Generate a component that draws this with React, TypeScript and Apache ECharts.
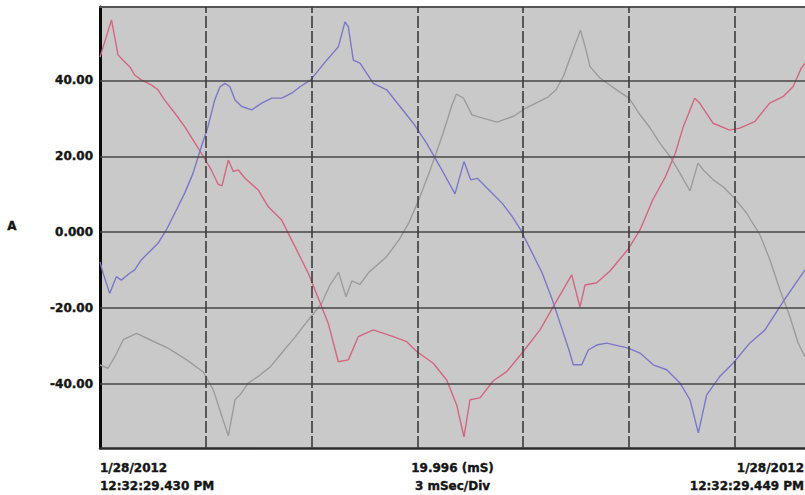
import React, { useEffect, useRef } from "react";
import * as echarts from "echarts";

// Capture window: 19.996 ms, 3 ms per division
const SPAN_MS = 19.996;
const Y_MIN = -56.8;
const Y_MAX = 59.3;
const yTicks = [-40, -20, 0, 20, 40];
const xDivisions = [3, 6, 9, 12, 15, 18];

const startLabel = ["1/28/2012", "12:32:29.430 PM"];
const centerLabel = ["19.996 (mS)", "3 mSec/Div"];
const endLabel = ["1/28/2012", "12:32:29.449 PM"];
const unitLabel = "A";

// Phase currents (A) against time (ms)
const redT = [0, 0.326, 0.511, 0.652, 0.842, 0.984, 1.171, 1.455, 1.645, 1.835, 2.119, 2.402, 2.638, 2.873, 3.157, 3.347, 3.46, 3.639, 3.781, 3.923, 4.113, 4.49, 4.773, 5.154, 5.341, 5.624, 5.908, 6.098, 6.288, 6.475, 6.759, 7.043, 7.326, 7.752, 8.319, 8.699, 8.983, 9.453, 9.833, 10.117, 10.324, 10.494, 10.778, 11.155, 11.535, 12.006, 12.48, 12.857, 13.379, 13.614, 13.756, 14.088, 14.465, 14.984, 15.316, 15.676, 16.035, 16.318, 16.544, 16.867, 17.009, 17.387, 17.86, 18.144, 18.569, 18.995, 19.372, 19.656, 19.891, 19.996];
const redA = [46.1, 55.9, 46.7, 45.3, 43.6, 41.4, 40.1, 38.8, 37.5, 34.8, 31.4, 27.8, 24.3, 20.8, 16.4, 12.7, 12.2, 19.0, 16.0, 16.4, 14.2, 11.1, 6.7, 3.2, -0.3, -5.5, -10.8, -15.2, -19.6, -24.0, -34.1, -33.6, -27.5, -25.7, -27.5, -28.8, -31.4, -34.5, -38.9, -45.5, -53.9, -44.1, -43.6, -39.1, -36.7, -31.4, -25.7, -19.6, -11.2, -19.7, -13.9, -13.3, -10.2, -4.4, 0.6, 8.5, 14.6, 20.8, 27.8, 35.3, 34.0, 28.7, 26.9, 27.4, 29.1, 34.0, 35.7, 38.3, 43.2, 44.5];

const blueT = [0, 0.085, 0.275, 0.462, 0.604, 0.842, 0.984, 1.171, 1.361, 1.645, 1.88, 2.119, 2.402, 2.638, 2.873, 3.063, 3.253, 3.404, 3.545, 3.687, 3.829, 4.019, 4.303, 4.586, 4.87, 5.154, 5.437, 5.673, 5.976, 6.43, 6.759, 6.949, 7.043, 7.184, 7.374, 7.752, 8.132, 8.509, 8.886, 9.266, 9.643, 10.069, 10.324, 10.514, 10.701, 11.033, 11.41, 11.694, 11.932, 12.261, 12.545, 12.829, 13.112, 13.302, 13.424, 13.662, 13.85, 14.088, 14.371, 14.984, 15.316, 15.693, 16.073, 16.451, 16.734, 16.97, 17.208, 17.577, 17.954, 18.428, 18.861, 19.372, 19.996];
const blueA = [-7.8, -10.7, -16.1, -11.7, -12.6, -10.8, -9.9, -7.3, -5.5, -2.9, 0.6, 5.0, 10.3, 15.5, 22.5, 27.8, 34.8, 38.3, 39.2, 38.3, 34.8, 33.1, 32.2, 34.0, 35.3, 35.3, 36.6, 38.3, 40.1, 45.3, 48.8, 55.4, 54.1, 45.3, 44.5, 39.2, 37.5, 33.1, 28.7, 23.4, 17.3, 10.1, 18.6, 13.8, 14.2, 11.1, 7.6, 4.1, 0.6, -5.5, -10.8, -17.8, -25.7, -31.0, -34.9, -34.9, -31.0, -29.7, -29.2, -30.5, -31.8, -34.9, -36.2, -39.7, -44.1, -52.8, -42.8, -38.0, -34.5, -29.2, -25.7, -18.3, -9.9];

const grayT = [0, 0.227, 0.425, 0.661, 1.035, 1.418, 1.929, 2.459, 2.93, 3.214, 3.452, 3.639, 3.829, 3.971, 4.206, 4.538, 4.822, 5.154, 5.531, 5.908, 6.288, 6.523, 6.765, 6.977, 7.147, 7.374, 7.63, 8.112, 8.481, 8.756, 9.039, 9.331, 9.714, 9.984, 10.111, 10.31, 10.551, 10.835, 11.26, 11.742, 12.083, 12.431, 12.707, 12.934, 13.141, 13.416, 13.628, 13.784, 13.898, 14.181, 14.649, 15.004, 15.344, 15.6, 15.884, 16.195, 16.451, 16.734, 16.961, 17.111, 17.395, 17.679, 17.962, 18.342, 18.72, 19.003, 19.287, 19.571, 19.798, 19.996];
const grayA = [-34.9, -35.8, -32.7, -28.3, -26.6, -28.3, -30.5, -33.6, -36.8, -41.5, -48.3, -53.6, -44.1, -42.8, -39.7, -37.6, -35.5, -31.8, -27.6, -23.1, -18.7, -13.9, -10.5, -17.0, -12.8, -13.7, -10.5, -6.6, -2.0, 2.4, 8.5, 15.5, 25.6, 33.5, 36.4, 35.3, 30.9, 30.1, 29.0, 30.6, 32.7, 34.3, 35.6, 37.5, 41.0, 48.0, 53.2, 48.0, 43.6, 40.6, 37.5, 35.3, 30.6, 27.5, 23.4, 19.6, 15.5, 10.9, 18.2, 16.4, 13.8, 11.9, 9.3, 5.0, -0.7, -7.3, -15.2, -22.3, -29.1, -32.8];

const pairs = (t: number[], a: number[]) => t.map((x, i) => [x, a[i]]);

const TEXT_FONT = "DejaVu Sans, Verdana, sans-serif";
const TEXT_COLOR = "#151515";

function App() {
  const ref = useRef<HTMLDivElement>(null);

  useEffect(() => {
    if (!ref.current) return;
    const chart = echarts.init(ref.current, null, { renderer: "svg" });

    const twoLine = (lines: string[], x: number, align: string) => ({
      type: "text",
      x,
      y: 459,
      style: {
        text: lines.join("\n"),
        font: `bold 12px ${TEXT_FONT}`,
        fill: TEXT_COLOR,
        stroke: TEXT_COLOR,
        lineWidth: 0.4,
        align,
        verticalAlign: "top",
        lineHeight: 18,
      },
    });

    chart.setOption({
      animation: false,
      backgroundColor: "#ffffff",
      grid: {
        left: 100,
        right: 0,
        top: 7,
        bottom: 47,
        show: true,
        backgroundColor: "#c9c9c9",
        borderWidth: 0,
      },
      xAxis: [
        {
          type: "value",
          min: 0,
          max: SPAN_MS,
          position: "bottom",
          axisLine: { show: true, onZero: false, lineStyle: { color: "#2a2a2a", width: 2.5 } },
          axisTick: { show: false },
          axisLabel: { show: false },
          splitLine: { show: false },
        },
        {
          type: "value",
          min: 0,
          max: SPAN_MS,
          position: "top",
          axisLine: { show: true, onZero: false, lineStyle: { color: "#555555", width: 2 } },
          axisTick: { show: false },
          axisLabel: { show: false },
          splitLine: { show: false },
        },
      ],
      yAxis: {
        type: "value",
        min: Y_MIN,
        max: Y_MAX,
        axisLine: { show: true, onZero: false, lineStyle: { color: "#0a0a0a", width: 3 } },
        axisTick: { show: false, customValues: yTicks },
        splitLine: { show: false },
        axisLabel: {
          customValues: yTicks,
          margin: 7,
          fontFamily: TEXT_FONT,
          fontWeight: "bold",
          fontSize: 12,
          color: TEXT_COLOR,
          textBorderColor: TEXT_COLOR,
          textBorderWidth: 0.4,
          formatter: (v: number) => (v === 0 ? "0.000" : v.toFixed(2)),
        },
      },
      graphic: [
        {
          type: "text",
          x: 12,
          y: 226,
          style: {
            text: unitLabel,
            font: `bold 12px ${TEXT_FONT}`,
            fill: TEXT_COLOR,
            stroke: TEXT_COLOR,
            lineWidth: 0.4,
            align: "center",
            verticalAlign: "middle",
          },
        },
        twoLine(startLabel, 100, "left"),
        twoLine(centerLabel, 452.5, "center"),
        twoLine(endLabel, 804, "right"),
      ],
      series: [
        {
          name: "divisions",
          type: "line",
          data: [],
          z: 1,
          silent: true,
          markLine: {
            silent: true,
            symbol: "none",
            label: { show: false },
            animation: false,
            data: [
              ...yTicks.map((v) => ({
                yAxis: v,
                lineStyle: { color: "#464646", width: 1.6, type: "solid" },
              })),
              ...xDivisions.map((v) => ({
                xAxis: v,
                lineStyle: { color: "#3c3c3c", width: 1.6, type: [12, 3] },
              })),
            ],
          },
        },
        {
          name: "C",
          type: "line",
          z: 2,
          data: pairs(grayT, grayA),
          showSymbol: false,
          lineStyle: { color: "#9c9c9c", width: 1.4 },
        },
        {
          name: "A",
          type: "line",
          z: 2,
          data: pairs(redT, redA),
          showSymbol: false,
          lineStyle: { color: "#d4667f", width: 1.4 },
        },
        {
          name: "B",
          type: "line",
          z: 2,
          data: pairs(blueT, blueA),
          showSymbol: false,
          lineStyle: { color: "#7a78c8", width: 1.4 },
        },
      ],
    });

    return () => chart.dispose();
  }, []);

  return (
    <div
      ref={ref}
      style={{ position: "fixed", left: 0, top: 0, width: 805, height: 495 }}
    />
  );
}

export default App;
